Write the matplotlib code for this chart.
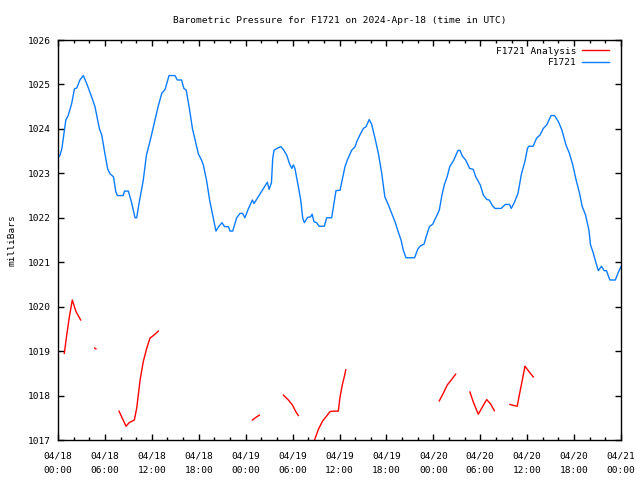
import numpy as np
import matplotlib
matplotlib.use("Agg")
import matplotlib.pyplot as plt

# hours since 2024-04-18 00:00 UTC, pressure in millibars
obs_hours = [0.0, 0.26, 0.5, 1.0, 1.3, 1.75, 2.1, 2.4, 2.8, 3.24, 3.67, 4.3, 4.73, 5.3, 5.6,
             6.0, 6.35, 6.65, 7.1, 7.4, 7.6, 8.35, 8.5, 9.0, 9.4, 9.85, 10.06, 10.36, 10.9,
             11.3, 11.9, 12.3, 12.8, 13.27, 13.7, 14.2, 14.96, 15.26, 15.8, 16.1, 16.4, 16.8,
             17.2, 17.65, 17.95, 18.37, 18.6, 19.0, 19.4, 19.86, 20.2, 20.5, 20.97, 21.3, 21.8,
             22.0, 22.34, 22.85, 23.28, 23.6, 23.9, 24.34, 24.86, 25.07, 25.6, 26.26, 26.77,
             27.0, 27.3, 27.46, 27.63, 28.2, 28.5, 28.8, 29.25, 29.6, 29.9, 30.1, 30.3, 30.74,
             31.04, 31.3, 31.5, 31.93, 32.3, 32.5, 32.74, 33.08, 33.38, 34.06, 34.36, 35.0,
             35.55, 36.07, 36.36, 36.7, 37.0, 37.56, 38.0, 38.2, 38.6, 39.05, 39.4, 39.8, 40.1,
             40.54, 40.97, 41.4, 41.8, 42.25, 42.67, 43.1, 43.5, 43.87, 44.16, 44.5, 45.6, 46.0,
             46.3, 46.82, 47.08, 47.5, 47.94, 48.37, 48.76, 49.1, 49.4, 49.76, 50.1, 50.62,
             51.14, 51.4, 51.7, 52.13, 52.65, 53.1, 53.43, 54.0, 54.4, 54.85, 55.15, 55.6, 55.9,
             56.67, 57.2, 57.75, 57.96, 58.3, 58.83, 59.26, 59.7, 60.04, 60.2, 60.77, 61.2,
             61.63, 62.07, 62.5, 63.06, 63.5, 64.0, 64.45, 64.96, 65.4, 65.83, 66.26, 66.7,
             67.03, 67.47, 67.9, 68.1, 68.4, 68.76, 69.1, 69.5, 69.84, 70.14, 70.58, 71.27,
             71.7, 72.0]
obs_mbar = [1023.35, 1023.41, 1023.56, 1024.2, 1024.3, 1024.57, 1024.9, 1024.92, 1025.1,
            1025.2, 1025.02, 1024.72, 1024.5, 1024.0, 1023.86, 1023.44, 1023.1, 1022.99,
            1022.92, 1022.58, 1022.5, 1022.5, 1022.6, 1022.6, 1022.35, 1022.0, 1022.0,
            1022.32, 1022.84, 1023.4, 1023.82, 1024.12, 1024.5, 1024.8, 1024.89, 1025.2,
            1025.2, 1025.1, 1025.1, 1024.91, 1024.87, 1024.46, 1024.0, 1023.67, 1023.44,
            1023.29, 1023.18, 1022.84, 1022.39, 1022.0, 1021.7, 1021.79, 1021.89, 1021.8,
            1021.8, 1021.7, 1021.7, 1022.0, 1022.1, 1022.1, 1022.0, 1022.2, 1022.4, 1022.32,
            1022.47, 1022.66, 1022.8, 1022.64, 1022.79, 1023.34, 1023.52, 1023.58, 1023.6,
            1023.54, 1023.41, 1023.22, 1023.11, 1023.19, 1023.11, 1022.7, 1022.4, 1021.99,
            1021.89, 1022.01, 1022.02, 1022.08, 1021.91, 1021.89, 1021.81, 1021.81, 1022.0,
            1022.0, 1022.61, 1022.62, 1022.86, 1023.15, 1023.3, 1023.52, 1023.6, 1023.71,
            1023.86, 1024.01, 1024.05, 1024.21, 1024.11, 1023.79, 1023.45, 1023.0, 1022.47,
            1022.29, 1022.1, 1021.91, 1021.69, 1021.5, 1021.27, 1021.1, 1021.1, 1021.29,
            1021.36, 1021.41, 1021.57, 1021.8, 1021.86, 1022.02, 1022.17, 1022.51, 1022.74,
            1022.92, 1023.15, 1023.3, 1023.51, 1023.52, 1023.39, 1023.3, 1023.11, 1023.09,
            1022.92, 1022.74, 1022.51, 1022.41, 1022.4, 1022.26, 1022.21, 1022.21, 1022.3,
            1022.3, 1022.21, 1022.32, 1022.55, 1022.98, 1023.26, 1023.56, 1023.61, 1023.61,
            1023.79, 1023.86, 1024.01, 1024.09, 1024.3, 1024.3, 1024.16, 1023.97, 1023.64,
            1023.45, 1023.19, 1022.85, 1022.55, 1022.26, 1022.06, 1021.72, 1021.39, 1021.24,
            1021.01, 1020.81, 1020.91, 1020.81, 1020.81, 1020.6, 1020.6, 1020.79, 1020.9]

# analysis series, None marks a gap
ana_hours = [0.81, 1.1, 1.45, 1.83, 2.3, 2.9, None,
             4.7, 4.85, None,
             7.8, 8.7, 9.1, 9.76, 10.06, 10.5, 10.9, 11.34, 11.76, 12.4, 12.83, None,
             24.86, 25.32, 25.75, None,
             28.82, 29.46, 29.97, 30.4, 30.74, None,
             32.7, 33.3, 33.85, 34.36, 34.79, 35.3, 35.85, 36.07, 36.36, 36.62, 36.8, None,
             48.76, 49.27, 49.79, 50.34, 50.85, None,
             52.68, 53.1, 53.75, 54.3, 54.82, 55.33, 55.8, None,
             57.8, 58.2, 58.73, 58.95, 59.29, 59.72, 59.93, 60.36, 60.78]
ana_mbar = [1018.95, 1019.34, 1019.77, 1020.15, 1019.89, 1019.7, None,
            1019.07, 1019.05, None,
            1017.65, 1017.31, 1017.39, 1017.45, 1017.71, 1018.35, 1018.76, 1019.06, 1019.29,
            1019.38, 1019.45, None,
            1017.45, 1017.51, 1017.56, None,
            1018.01, 1017.9, 1017.79, 1017.64, 1017.55, None,
            1016.95, 1017.24, 1017.43, 1017.54, 1017.64, 1017.65, 1017.65, 1017.97, 1018.24,
            1018.43, 1018.58, None,
            1017.88, 1018.05, 1018.24, 1018.36, 1018.48, None,
            1018.08, 1017.86, 1017.58, 1017.75, 1017.91, 1017.81, 1017.66, None,
            1017.8, 1017.78, 1017.76, 1017.97, 1018.27, 1018.66, 1018.61, 1018.51, 1018.42]

tick_hours = list(range(0, 73, 6))
tick_labels = ["04/18\n00:00", "04/18\n06:00", "04/18\n12:00", "04/18\n18:00",
               "04/19\n00:00", "04/19\n06:00", "04/19\n12:00", "04/19\n18:00",
               "04/20\n00:00", "04/20\n06:00", "04/20\n12:00", "04/20\n18:00",
               "04/21\n00:00"]

plt.rcParams['font.family'] = ['DejaVu Sans Mono']
fs = 6.8

fig = plt.figure(figsize=(6.4, 4.8), dpi=100)
ax = fig.add_axes([58 / 640, 40 / 480, 563 / 640, 400 / 480])

ax_h = np.array([np.nan if v is None else v for v in ana_hours], dtype=float)
ax_p = np.array([np.nan if v is None else v for v in ana_mbar], dtype=float)
ax.plot(ax_h, ax_p, color='#ff0000', lw=1.0, label='F1721 Analysis')
ax.plot(obs_hours, obs_mbar, color='#0a7cff', lw=1.0, label='F1721')

ax.set_xlim(0, 72)
ax.set_ylim(1017, 1026)
ax.set_xticks(tick_hours)
ax.set_xticklabels(tick_labels, fontsize=fs, linespacing=1.8)
ax.set_xticks(range(0, 73, 2), minor=True)
ax.set_yticks(range(1017, 1027))
ax.set_yticklabels([str(v) for v in range(1017, 1027)], fontsize=fs)
ax.tick_params(which='both', direction='in', top=True, right=True, width=1.0)
ax.tick_params(which='major', length=4.0, pad=5)
ax.tick_params(axis='x', which='major', pad=8)
ax.tick_params(which='minor', length=2.0)
for s in ax.spines.values():
    s.set_linewidth(1.0)

ax.set_title("Barometric Pressure for F1721 on 2024-Apr-18 (time in UTC)", fontsize=fs, pad=12)
ax.set_ylabel("milliBars", fontsize=fs, labelpad=8)

ax.legend(loc='upper right', bbox_to_anchor=(1 - 5 / 563, 1.0), frameon=False,
          markerfirst=False, fontsize=fs, handlelength=2.9, handletextpad=0.6,
          labelspacing=0.25, borderaxespad=0.3)

fig.savefig("out.png", dpi=100)
